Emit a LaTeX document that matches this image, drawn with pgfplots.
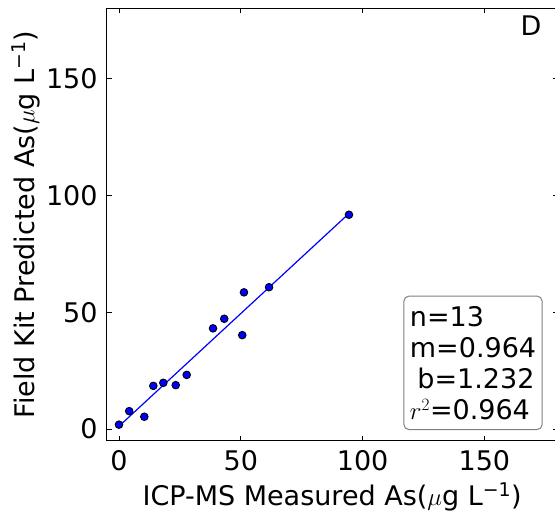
\documentclass[border=0pt]{standalone}
\usepackage{pgfplots}
\pgfplotsset{compat=1.18}
\usepackage{fontspec}
\setmainfont{DejaVu Sans}
\usetikzlibrary{calc}
\begin{document}
\fontsize{27}{32}\selectfont
\begin{tikzpicture}
\begin{axis}[
  scale only axis, width=450.7pt, height=432.5pt,
  xmin=-5,xmax=180,ymin=-5,ymax=180,
  xtick={0,50,100,150}, ytick={0,50,100,150},
  tick align=inside, major tick length=5pt,
  tick style={black, line width=0.9pt},
  axis line style={black, line width=1.3pt},
  /pgf/number format/assume math mode=true,
  ticklabel style={font=\fontsize{27}{32}\selectfont},
  label style={font=\fontsize{27}{32}\selectfont},
  xlabel={ICP-MS Measured As($\mu$g L\textsuperscript{−1})},
  ylabel={Field Kit Predicted As($\mu$g L\textsuperscript{−1})},
  xlabel style={yshift=6pt},
  ylabel style={yshift=-12pt},
  clip=false,
]
\addplot[blue, line width=1.2pt] coordinates {(0,1.232) (94.4,92.23)};
\addplot[only marks, mark=*, mark size=3.8pt, mark options={fill=blue, draw=black, line width=0.9pt}] coordinates {
(0,1.9) (4.2,7.7) (10.4,5.3) (14.1,18.5) (18.2,19.8) (23.3,18.8) (27.8,23.2)
(38.6,43.1) (43.2,47.2) (50.6,40.2) (51.3,58.5) (61.6,60.7) (94.4,91.7)};
\node[font=\fontsize{27}{32}\selectfont] at (axis cs:169.1,172.5) {D};
\node[draw=gray, rounded corners=5pt, line width=1pt, fill=white, anchor=south east, align=left, inner xsep=6pt, inner ysep=10pt, font=\fontsize{27}{31}\selectfont] at (axis cs:173.9,-0.4) {n=13\\m=0.964\\\hphantom{i}b=1.232\\$r^2$=0.964};
\end{axis}
\pgfresetboundingbox
\path[use as bounding box] ($(current axis.south west)+(-106.8pt,-73.2pt)$) rectangle ($(current axis.north east)+(-2.5pt,8.3pt)$);
\end{tikzpicture}
\end{document}
